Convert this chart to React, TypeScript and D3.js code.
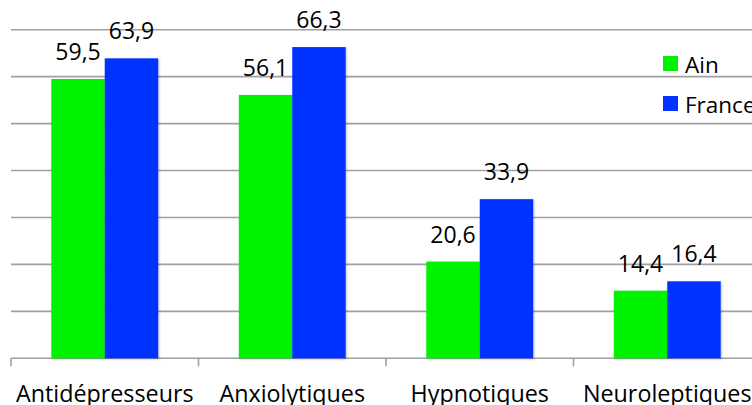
import React from "react";
import * as d3 from "d3";

const categories = ["Antidépresseurs", "Anxiolytiques", "Hypnotiques", "Neuroleptiques"];
const seriesNames = ["Ain", "France"];
const ainValues = [59.5, 56.1, 20.6, 14.4];
const franceValues = [63.9, 66.3, 33.9, 16.4];
const yTicks = [0, 10, 20, 30, 40, 50, 60, 70];
const colors = ["#00F200", "#0433FF"];

const W = 752;
const H = 405;

export default function App() {
  const x0 = d3.scaleBand<string>().domain(categories).range([11, 761]).paddingInner(0.43).paddingOuter(0.215);
  const x1 = d3.scaleBand<string>().domain(seriesNames).range([0, x0.bandwidth()]).padding(0);
  const y = d3.scaleLinear().domain([0, 70]).range([358.3, 29.7]);
  const step = x0.step();
  const fmt = (v: number) => v.toFixed(1).replace(".", ",");
  const font = "'Open Sans', 'DejaVu Sans', sans-serif";
  const data = [ainValues, franceValues];

  return (
    <svg width={W} height={H} style={{ position: "absolute", left: 0, top: 0 }} fontFamily={font}>
      <defs>
        <filter id="sh" x="-10%" y="-10%" width="130%" height="130%">
          <feDropShadow dx="1" dy="1" stdDeviation="1" floodColor="#000" floodOpacity="0.25" />
        </filter>
      </defs>
      <rect width={W} height={H} fill="#fff" />
      {yTicks.map((t) => (
        <line key={t} x1={11} x2={W} y1={y(t)} y2={y(t)} stroke="#a0a0a0" strokeWidth={1.6} />
      ))}
      {d3.range(categories.length + 1).map((i) => (
        <line key={i} x1={11 + i * step} x2={11 + i * step} y1={y(0)} y2={y(0) + 8} stroke="#a0a0a0" strokeWidth={1.6} />
      ))}
      {categories.map((c, i) => (
        <g key={c}>
          {seriesNames.map((s, j) => {
            const v = data[j][i];
            const bx = (x0(c) as number) + (x1(s) as number);
            return (
              <g key={s}>
                <rect x={bx} y={y(v)} width={x1.bandwidth()} height={y(0) - y(v)} fill={colors[j]} filter="url(#sh)" />
                <text x={bx + x1.bandwidth() / 2} y={y(v) - 19} textAnchor="middle" fontSize={23} fill="#000">
                  {fmt(v)}
                </text>
              </g>
            );
          })}
          <text x={(x0(c) as number) + x0.bandwidth() / 2} y={402} textAnchor="middle" fontSize={23.3} fill="#000">
            {c}
          </text>
        </g>
      ))}
      {seriesNames.map((s, j) => (
        <g key={s} transform={`translate(663, ${56 + j * 40})`}>
          <rect x={0} y={0} width={15} height={15} fill={colors[j]} />
          <text x={22} y={17} fontSize={22.5} fill="#000">
            {s}
          </text>
        </g>
      ))}
    </svg>
  );
}
